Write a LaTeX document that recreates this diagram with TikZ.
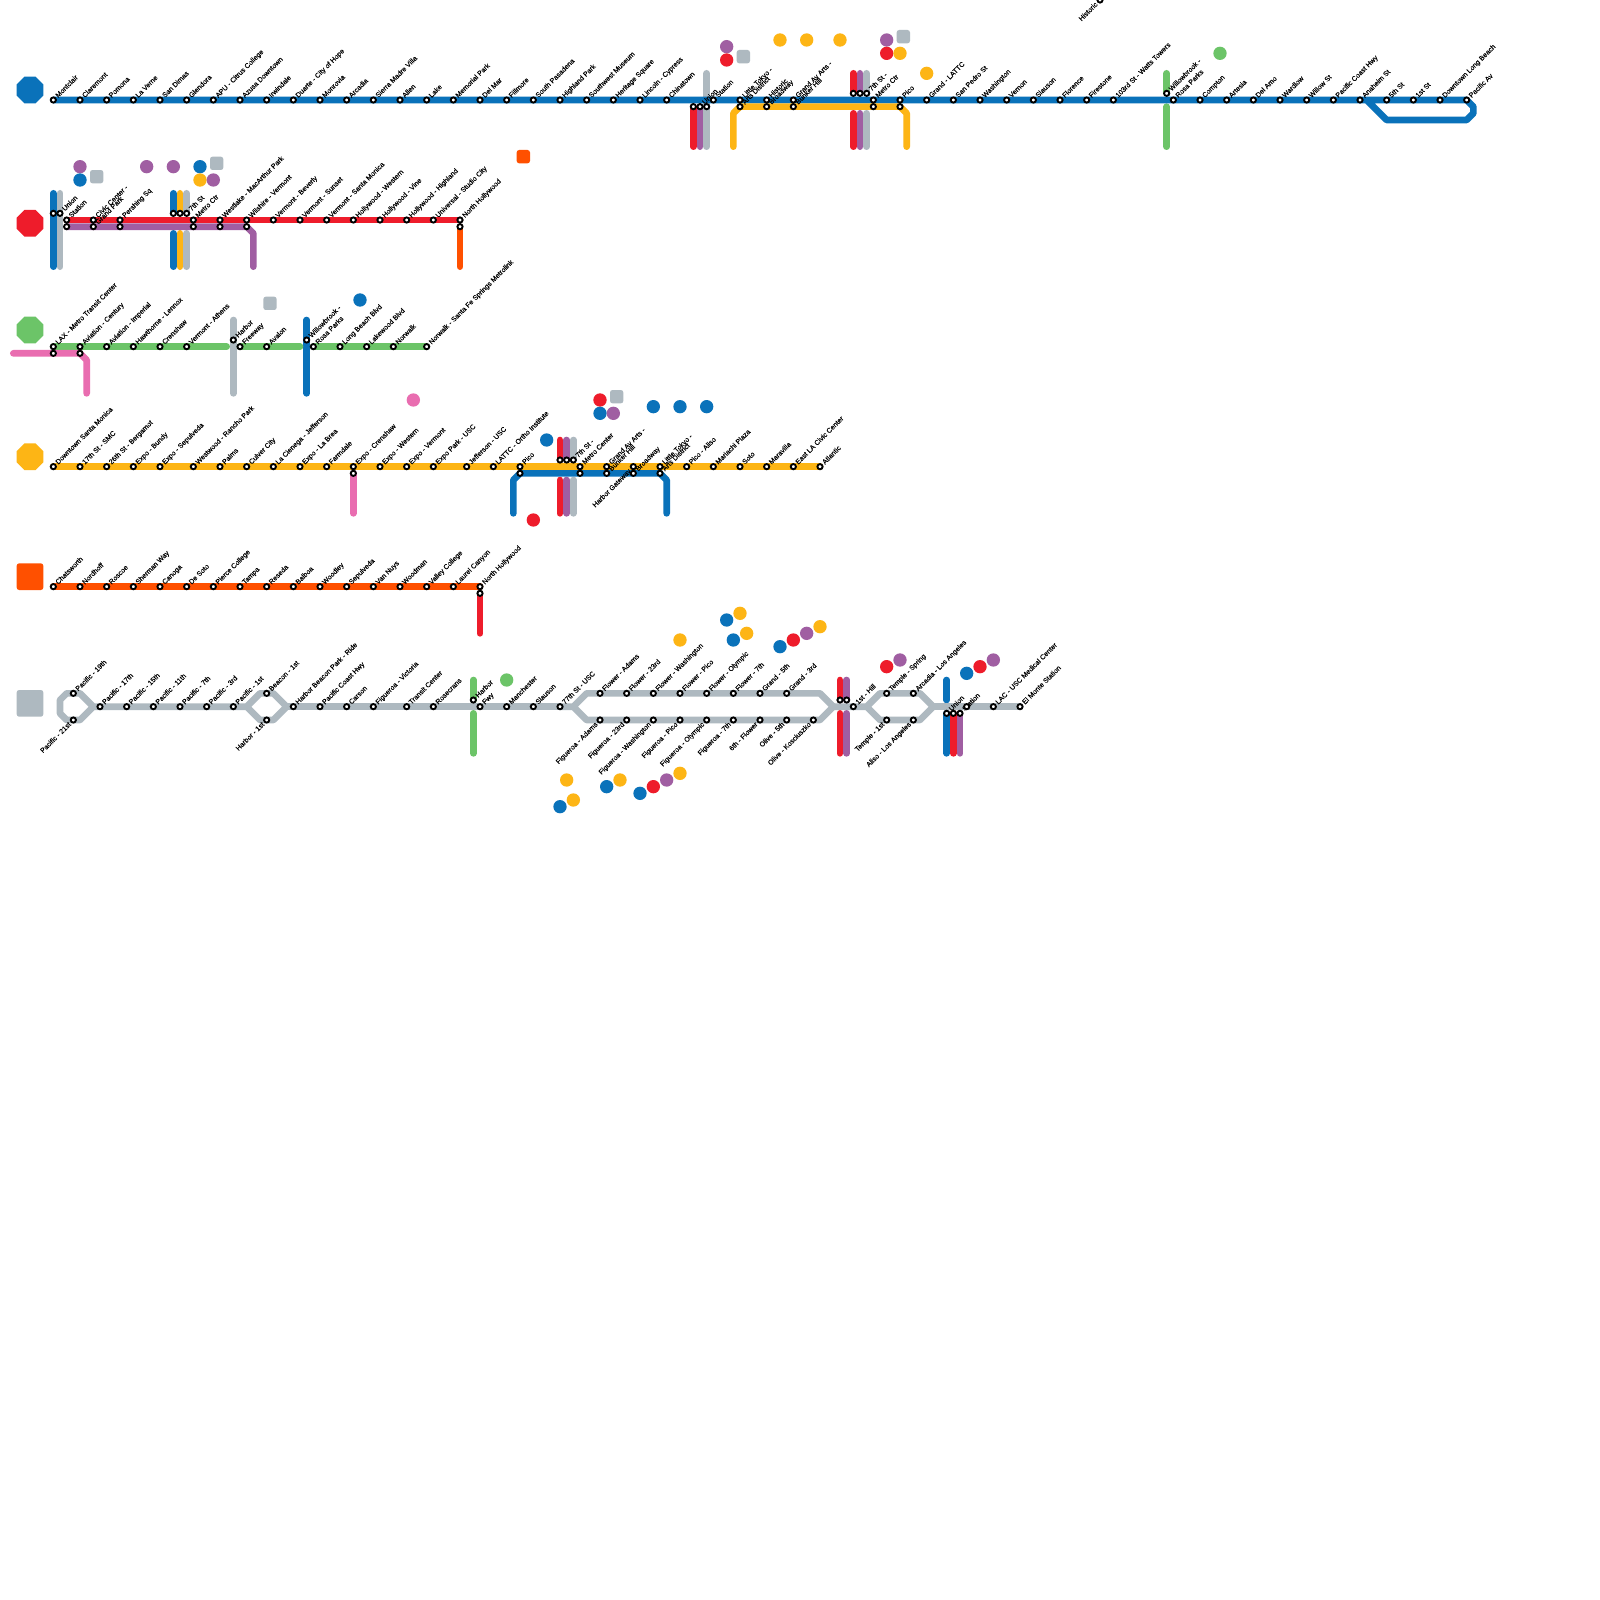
\documentclass[tikz,border=0pt]{standalone}
\usepackage{fontspec}
\setmainfont[FakeBold=0.3]{Liberation Sans}
\usetikzlibrary{shapes.geometric}
\pgfdeclarelayer{lines}
\pgfdeclarelayer{labels}
\pgfsetlayers{lines,labels,main}
\definecolor{mblue}{HTML}{0A72BA}
\definecolor{mred}{HTML}{EE1C2B}
\definecolor{mpurple}{HTML}{A05EA2}
\definecolor{mgold}{HTML}{FDB515}
\definecolor{morange}{HTML}{FF5000}
\definecolor{mgray}{HTML}{AEB9C0}
\definecolor{mgreen}{HTML}{6CC468}
\definecolor{mpink}{HTML}{E96DB0}
\tikzset{
  ln/.style={line width=6.67pt,line cap=round,line join=round,draw=#1},
  stn/.style={circle,draw=black,fill=white,line width=1.9pt,minimum size=5.2pt,inner sep=0pt,outer sep=0pt},
  lblup/.style={rotate=45,anchor=mid west,inner sep=0pt,font=\fontsize{7}{8}\selectfont},
  lbldn/.style={rotate=45,anchor=mid east,inner sep=0pt,font=\fontsize{7}{8}\selectfont},
  dot/.style={circle,fill=#1,draw=none,minimum size=13.33pt,inner sep=0pt,outer sep=0pt},
  sq/.style={rectangle,rounded corners=2.5pt,fill=#1,draw=none,minimum size=13.33pt,inner sep=0pt,outer sep=0pt},
  octa/.style={regular polygon,regular polygon sides=8,fill=#1,draw=none,minimum size=28.87pt,inner sep=0pt,outer sep=0pt},
  bigsq/.style={rectangle,rounded corners=2.5pt,fill=#1,draw=none,minimum size=26.67pt,inner sep=0pt,outer sep=0pt}
}
\newcommand{\Sta}[4]{\node[stn] (#1) at (#2,#3) {};\begin{pgfonlayer}{labels}\node[lblup] (#1-t) at ([shift={(0.45,-0.55)}]#1.center) {#4};\end{pgfonlayer}}
\newcommand{\Dwn}[4]{\node[stn] (#1) at (#2,#3) {};\begin{pgfonlayer}{labels}\node[lbldn] (#1-t) at ([shift={(-0.55,0.45)}]#1.center) {#4};\end{pgfonlayer}}
\newcommand{\Pln}[3]{\node[stn] (#1) at (#2,#3) {};}
\newcommand{\Stub}[5]{\coordinate (#1a) at (#3,#4);\coordinate (#1b) at (#3,#5);\draw[ln=#2] (#1a) -- (#1b);}
\begin{document}
\begin{tikzpicture}[x=6.66667pt,y=-6.66667pt]
\path[use as bounding box] (0,0) rectangle (240,240);
\begin{pgfonlayer}{lines}
\fill[white] (0,0) rectangle (240,240);
\end{pgfonlayer}
% legends
\node[octa=mblue] (lgblue) at (4.5,13.5) {};
\node[octa=mred] (lgred) at (4.5,33.5) {};
\node[octa=mgreen] (lggreen) at (4.5,49.5) {};
\node[octa=mgold] (lggold) at (4.5,68.5) {};
\node[bigsq=morange] (lgorange) at (4.5,86.5) {};
\node[bigsq=mgray] (lggray) at (4.5,105.5) {};
% row 1 stations
\Dwn{hist}{165}{0}{Historic}
\Sta{a1}{8}{15}{Montclair}
\Sta{a2}{12}{15}{Claremont}
\Sta{a3}{16}{15}{Pomona}
\Sta{a4}{20}{15}{La Verne}
\Sta{a5}{24}{15}{San Dimas}
\Sta{a6}{28}{15}{Glendora}
\Sta{a7}{32}{15}{APU - Citrus College}
\Sta{a8}{36}{15}{Azusa Downtown}
\Sta{a9}{40}{15}{Irwindale}
\Sta{a10}{44}{15}{Duarte - City of Hope}
\Sta{a11}{48}{15}{Monrovia}
\Sta{a12}{52}{15}{Arcadia}
\Sta{a13}{56}{15}{Sierra Madre Villa}
\Sta{a14}{60}{15}{Allen}
\Sta{a15}{64}{15}{Lake}
\Sta{a16}{68}{15}{Memorial Park}
\Sta{a17}{72}{15}{Del Mar}
\Sta{a18}{76}{15}{Fillmore}
\Sta{a19}{80}{15}{South Pasadena}
\Sta{a20}{84}{15}{Highland Park}
\Sta{a21}{88}{15}{Southwest Museum}
\Sta{a22}{92}{15}{Heritage Square}
\Sta{a23}{96}{15}{Lincoln - Cypress}
\Sta{a24}{100}{15}{Chinatown}
\Pln{a25}{104}{16}
\Sta{a26}{105}{16}{Union}
\Pln{a27}{106}{16}
\Sta{a28}{107}{15}{Station}
\Sta{a29}{111}{15}{Little Tokyo -}
\Sta{a30}{111}{16}{Arts District}
\Sta{a31}{115}{15}{Historic}
\Sta{a32}{115}{16}{Broadway}
\Sta{a33}{119}{15}{Grand Av Arts -}
\Sta{a34}{119}{16}{Bunker Hill}
\Pln{a35}{128}{14}
\Pln{a36}{129}{14}
\Sta{a37}{130}{14}{7th St -}
\Sta{a38}{131}{15}{Metro Ctr}
\Pln{a39}{131}{16}
\Sta{a40}{135}{15}{Pico}
\Pln{a41}{135}{16}
\Sta{a42}{139}{15}{Grand - LATTC}
\Sta{a43}{143}{15}{San Pedro St}
\Sta{a44}{147}{15}{Washington}
\Sta{a45}{151}{15}{Vernon}
\Sta{a46}{155}{15}{Slauson}
\Sta{a47}{159}{15}{Florence}
\Sta{a48}{163}{15}{Firestone}
\Sta{a49}{167}{15}{103rd St - Watts Towers}
\Sta{a50}{175}{14}{Willowbrook -}
\Sta{a51}{176}{15}{Rosa Parks}
\Sta{a52}{180}{15}{Compton}
\Sta{a53}{184}{15}{Artesia}
\Sta{a54}{188}{15}{Del Amo}
\Sta{a55}{192}{15}{Wardlow}
\Sta{a56}{196}{15}{Willow St}
\Sta{a57}{200}{15}{Pacific Coast Hwy}
\Sta{a58}{204}{15}{Anaheim St}
\Sta{a59}{208}{15}{5th St}
\Sta{a60}{212}{15}{1st St}
\Sta{a61}{216}{15}{Downtown Long Beach}
\Sta{a62}{220}{15}{Pacific Av}
% row 2 stations
\Pln{b1}{8}{32}
\Sta{b2}{9}{32}{Union}
\Sta{b3}{10}{33}{Station}
\Pln{b4}{10}{34}
\Sta{b5}{14}{33}{Civic Center -}
\Sta{b6}{14}{34}{Grand Park}
\Sta{b7}{18}{33}{Pershing Sq}
\Pln{b8}{18}{34}
\Pln{b9}{26}{32}
\Pln{b10}{27}{32}
\Sta{b11}{28}{32}{7th St}
\Sta{b12}{29}{33}{Metro Ctr}
\Pln{b13}{29}{34}
\Sta{b14}{33}{33}{Westlake - MacArthur Park}
\Pln{b15}{33}{34}
\Sta{b16}{37}{33}{Wilshire - Vermont}
\Pln{b17}{37}{34}
\Sta{b18}{41}{33}{Vermont - Beverly}
\Sta{b19}{45}{33}{Vermont - Sunset}
\Sta{b20}{49}{33}{Vermont - Santa Monica}
\Sta{b21}{53}{33}{Hollywood - Western}
\Sta{b22}{57}{33}{Hollywood - Vine}
\Sta{b23}{61}{33}{Hollywood - Highland}
\Sta{b24}{65}{33}{Universal - Studio City}
\Sta{b25}{69}{33}{North Hollywood}
\Pln{b26}{69}{34}
% row 3 stations
\Sta{c1}{8}{52}{LAX - Metro Transit Center}
\Pln{c2}{8}{53}
\Sta{c3}{12}{52}{Aviation - Century}
\Pln{c4}{12}{53}
\Sta{c5}{16}{52}{Aviation - Imperial}
\Sta{c6}{20}{52}{Hawthorne - Lennox}
\Sta{c7}{24}{52}{Crenshaw}
\Sta{c8}{28}{52}{Vermont - Athens}
\Sta{c9}{35}{51}{Harbor}
\Sta{c10}{36}{52}{Freeway}
\Sta{c11}{40}{52}{Avalon}
\Sta{c12}{46}{51}{Willowbrook -}
\Sta{c13}{47}{52}{Rosa Parks}
\Sta{c14}{51}{52}{Long Beach Blvd}
\Sta{c15}{55}{52}{Lakewood Blvd}
\Sta{c16}{59}{52}{Norwalk}
\Sta{c17}{64}{52}{Norwalk - Santa Fe Springs Metrolink}
% row 4 stations
\Sta{d1}{8}{70}{Downtown Santa Monica}
\Sta{d2}{12}{70}{17th St - SMC}
\Sta{d3}{16}{70}{26th St - Bergamot}
\Sta{d4}{20}{70}{Expo - Bundy}
\Sta{d5}{24}{70}{Expo - Sepulveda}
\Sta{d6}{29}{70}{Westwood - Rancho Park}
\Sta{d7}{33}{70}{Palms}
\Sta{d8}{37}{70}{Culver City}
\Sta{d9}{41}{70}{La Cienega - Jefferson}
\Sta{d10}{45}{70}{Expo - La Brea}
\Sta{d11}{49}{70}{Farmdale}
\Sta{d12}{53}{70}{Expo - Crenshaw}
\Pln{d13}{53}{71}
\Sta{d14}{57}{70}{Expo - Western}
\Sta{d15}{61}{70}{Expo - Vermont}
\Sta{d16}{65}{70}{Expo Park - USC}
\Sta{d17}{70}{70}{Jefferson - USC}
\Sta{d18}{74}{70}{LATTC - Ortho Institute}
\Sta{d19}{78}{70}{Pico}
\Pln{d20}{78}{71}
\Pln{d21}{84}{69}
\Pln{d22}{85}{69}
\Sta{d23}{86}{69}{7th St -}
\Sta{d24}{87}{70}{Metro Center}
\Pln{d25}{87}{71}
\Sta{d26}{91}{70}{Grand Av Arts -}
\Sta{d27}{91}{71}{Bunker Hill}
\Dwn{d28}{95}{70}{Harbor Gateway}
\Sta{d29}{95}{71}{Broadway}
\Sta{d30}{99}{70}{Little Tokyo -}
\Sta{d31}{99}{71}{Arts District}
\Sta{d32}{103}{70}{Pico - Aliso}
\Sta{d33}{107}{70}{Mariachi Plaza}
\Sta{d34}{111}{70}{Soto}
\Sta{d35}{115}{70}{Maravilla}
\Sta{d36}{119}{70}{East LA Civic Center}
\Sta{d37}{123}{70}{Atlantic}
% row 5 stations
\Sta{e1}{8}{88}{Chatsworth}
\Sta{e2}{12}{88}{Nordhoff}
\Sta{e3}{16}{88}{Roscoe}
\Sta{e4}{20}{88}{Sherman Way}
\Sta{e5}{24}{88}{Canoga}
\Sta{e6}{28}{88}{De Soto}
\Sta{e7}{32}{88}{Pierce College}
\Sta{e8}{36}{88}{Tampa}
\Sta{e9}{40}{88}{Reseda}
\Sta{e10}{44}{88}{Balboa}
\Sta{e11}{48}{88}{Woodley}
\Sta{e12}{52}{88}{Sepulveda}
\Sta{e13}{56}{88}{Van Nuys}
\Sta{e14}{60}{88}{Woodman}
\Sta{e15}{64}{88}{Valley College}
\Sta{e16}{68}{88}{Laurel Canyon}
\Sta{e17}{72}{88}{North Hollywood}
\Pln{e18}{72}{89}
% row 6 stations
\Sta{f1}{11}{104}{Pacific - 19th}
\Dwn{f2}{11}{108}{Pacific - 21st}
\Sta{f3}{15}{106}{Pacific - 17th}
\Sta{f4}{19}{106}{Pacific - 15th}
\Sta{f5}{23}{106}{Pacific - 11th}
\Sta{f6}{27}{106}{Pacific - 7th}
\Sta{f7}{31}{106}{Pacific - 3rd}
\Sta{f8}{35}{106}{Pacific - 1st}
\Sta{f9}{40}{104}{Beacon - 1st}
\Dwn{f10}{40}{108}{Harbor - 1st}
\Sta{f11}{44}{106}{Harbor Beacon Park - Ride}
\Sta{f12}{48}{106}{Pacific Coast Hwy}
\Sta{f13}{52}{106}{Carson}
\Sta{f14}{56}{106}{Figueroa - Victoria}
\Sta{f15}{61}{106}{Transit Center}
\Sta{f16}{65}{106}{Rosecrans}
\Sta{f17}{71}{105}{Harbor}
\Sta{f18}{72}{106}{Fwy}
\Sta{f19}{76}{106}{Manchester}
\Sta{f20}{80}{106}{Slauson}
\Sta{f21}{84}{106}{77th St - USC}
\Sta{g1}{90}{104}{Flower - Adams}
\Sta{g2}{94}{104}{Flower - 23rd}
\Sta{g3}{98}{104}{Flower - Washington}
\Sta{g4}{102}{104}{Flower - Pico}
\Sta{g5}{106}{104}{Flower - Olympic}
\Sta{g6}{110}{104}{Flower - 7th}
\Sta{g7}{114}{104}{Grand - 5th}
\Sta{g8}{118}{104}{Grand - 3rd}
\Dwn{h1}{90}{108}{Figueroa - Adams}
\Dwn{h2}{94}{108}{Figueroa - 23rd}
\Dwn{h3}{98}{108}{Figueroa - Washington}
\Dwn{h4}{102}{108}{Figueroa - Pico}
\Dwn{h5}{106}{108}{Figueroa - Olympic}
\Dwn{h6}{110}{108}{Figueroa - 7th}
\Dwn{h7}{114}{108}{6th - Flower}
\Dwn{h8}{118}{108}{Olive - 5th}
\Dwn{h9}{122}{108}{Olive - Kosciuszko}
\Pln{k1}{126}{105}
\Pln{k2}{127}{105}
\Sta{k3}{128}{106}{1st - Hill}
\Sta{k4}{133}{104}{Temple - Spring}
\Dwn{k5}{133}{108}{Temple - 1st}
\Sta{k6}{137}{104}{Arcadia - Los Angeles}
\Dwn{k7}{137}{108}{Aliso - Los Angeles}
\Sta{k8}{142}{107}{Union}
\Pln{k9}{143}{107}
\Sta{k10}{144}{107}{Station}
\Pln{k11}{145}{106}
\Sta{k12}{149}{106}{LAC - USC Medical Center}
\Sta{k13}{153}{106}{El Monte Station}
% icons
\node[dot=mpurple] (i1) at (109,7) {};
\node[dot=mred] (i2) at (109,9) {};
\node[sq=mgray] (i3) at (111.5,8.5) {};
\node[dot=mgold] (i4) at (117,6) {};
\node[dot=mgold] (i5) at (121,6) {};
\node[dot=mgold] (i6) at (126,6) {};
\node[dot=mpurple] (i7) at (133,6) {};
\node[dot=mred] (i8) at (133,8) {};
\node[sq=mgray] (i9) at (135.5,5.5) {};
\node[dot=mgold] (i10) at (135,8) {};
\node[dot=mgold] (i11) at (139,11) {};
\node[dot=mgreen] (i12) at (183,8) {};
\node[dot=mpurple] (i13) at (12,25) {};
\node[dot=mblue] (i14) at (12,27) {};
\node[sq=mgray] (i15) at (14.5,26.5) {};
\node[dot=mpurple] (i16) at (22,25) {};
\node[dot=mpurple] (i17) at (26,25) {};
\node[dot=mblue] (i18) at (30,25) {};
\node[sq=mgray] (i19) at (32.5,24.5) {};
\node[dot=mgold] (i20) at (30,27) {};
\node[dot=mpurple] (i21) at (32,27) {};
\node[sq=morange] (i22) at (78.5,23.5) {};
\node[sq=mgray] (i23) at (40.5,45.5) {};
\node[dot=mblue] (i24) at (54,45) {};
\node[dot=mpink] (i25) at (62,60) {};
\node[dot=mblue] (i26) at (82,66) {};
\node[dot=mred] (i27) at (90,60) {};
\node[sq=mgray] (i28) at (92.5,59.5) {};
\node[dot=mblue] (i29) at (90,62) {};
\node[dot=mpurple] (i30) at (92,62) {};
\node[dot=mblue] (i31) at (98,61) {};
\node[dot=mblue] (i32) at (102,61) {};
\node[dot=mblue] (i33) at (106,61) {};
\node[dot=mred] (i34) at (80,78) {};
\node[dot=mgold] (i35) at (102,96) {};
\node[dot=mblue] (i36) at (109,93) {};
\node[dot=mgold] (i37) at (111,92) {};
\node[dot=mblue] (i38) at (110,96) {};
\node[dot=mgold] (i39) at (112,95) {};
\node[dot=mblue] (i40) at (117,97) {};
\node[dot=mred] (i41) at (119,96) {};
\node[dot=mpurple] (i42) at (121,95) {};
\node[dot=mgold] (i43) at (123,94) {};
\node[dot=mgreen] (i44) at (76,102) {};
\node[dot=mred] (i45) at (133,100) {};
\node[dot=mpurple] (i46) at (135,99) {};
\node[dot=mblue] (i47) at (145,101) {};
\node[dot=mred] (i48) at (147,100) {};
\node[dot=mpurple] (i49) at (149,99) {};
\node[dot=mgold] (i50) at (85,117) {};
\node[dot=mblue] (i51) at (84,121) {};
\node[dot=mgold] (i52) at (86,120) {};
\node[dot=mblue] (i53) at (91,118) {};
\node[dot=mgold] (i54) at (93,117) {};
\node[dot=mblue] (i55) at (96,119) {};
\node[dot=mred] (i56) at (98,118) {};
\node[dot=mpurple] (i57) at (100,117) {};
\node[dot=mgold] (i58) at (102,116) {};
% connectors
\begin{pgfonlayer}{lines}
% transfer stubs, row 1
\Stub{s1}{mgray}{106}{11}{22}
\Stub{s2}{mred}{104}{16}{22}
\Stub{s3}{mpurple}{105}{16}{22}
\Stub{s4}{mred}{128}{11}{14}
\Stub{s5}{mpurple}{129}{11}{14}
\Stub{s6}{mgray}{130}{11}{14}
\Stub{s7}{mred}{128}{17}{22}
\Stub{s8}{mpurple}{129}{17}{22}
\Stub{s9}{mgray}{130}{17}{22}
\Stub{s10}{mgreen}{175}{11}{14}
\Stub{s11}{mgreen}{175}{16}{22}
% row 2
\Stub{s12}{mblue}{8}{29}{40}
\Stub{s13}{mgray}{9}{29}{40}
\Stub{s14}{mblue}{26}{29}{32}
\Stub{s15}{mgold}{27}{29}{32}
\Stub{s16}{mgray}{28}{29}{32}
\Stub{s17}{mblue}{26}{35}{40}
\Stub{s18}{mgold}{27}{35}{40}
\Stub{s19}{mgray}{28}{35}{40}
\Stub{s20}{morange}{69}{34}{40}
% row 3
\Stub{s21}{mgray}{35}{48}{59}
\Stub{s22}{mblue}{46}{48}{59}
% row 4
\Stub{s23}{mpink}{53}{71}{77}
\Stub{s24}{mred}{84}{66}{69}
\Stub{s25}{mpurple}{85}{66}{69}
\Stub{s26}{mgray}{86}{66}{69}
\Stub{s27}{mred}{84}{72}{77}
\Stub{s28}{mpurple}{85}{72}{77}
\Stub{s29}{mgray}{86}{72}{77}
% row 5
\Stub{s30}{mred}{72}{89}{95}
% row 6
\Stub{s31}{mgreen}{71}{102}{105}
\Stub{s32}{mgreen}{71}{107}{113}
\Stub{s33}{mred}{126}{102}{105}
\Stub{s34}{mpurple}{127}{102}{105}
\Stub{s35}{mred}{126}{107}{113}
\Stub{s36}{mpurple}{127}{107}{113}
\Stub{s37}{mblue}{142}{102}{105}
\Stub{s38}{mblue}{142}{107}{113}
\Stub{s39}{mred}{143}{107}{113}
\Stub{s40}{mpurple}{144}{107}{113}
% waypoints
\coordinate (w1) at (221,16);\coordinate (w2) at (221,17);\coordinate (w3) at (220,18);\coordinate (w4) at (208,18);\coordinate (w5) at (205,15);
\draw[ln=mblue] (a1.center) -- (a62.center) -- (w1) -- (w2) -- (w3) -- (w4) -- (w5);
\coordinate (w6) at (110,22);\coordinate (w7) at (110,17);\coordinate (w8) at (136,17);\coordinate (w9) at (136,22);
\draw[ln=mgold] (w6) -- (w7) -- (a30.center) -- (a41.center) -- (w8) -- (w9);
\draw[ln=mred] (b3.center) -- (b25.center);
\coordinate (w10) at (38,35);\coordinate (w11) at (38,40);
\draw[ln=mpurple] (b4.center) -- (b17.center) -- (w10) -- (w11);
\coordinate (w12) at (34,52);\coordinate (w13) at (45,52);
\draw[ln=mgreen] (c1.center) -- (w12);
\draw[ln=mgreen] (c10.center) -- (w13);
\draw[ln=mgreen] (c13.center) -- (c17.center);
\coordinate (w14) at (2,53);\coordinate (w15) at (13,54);\coordinate (w16) at (13,59);
\draw[ln=mpink] (w14) -- (c2.center) -- (c4.center) -- (w15) -- (w16);
\draw[ln=mgold] (d1.center) -- (d37.center);
\coordinate (w17) at (77,77);\coordinate (w18) at (77,72);\coordinate (w19) at (100,72);\coordinate (w20) at (100,77);
\draw[ln=mblue] (w17) -- (w18) -- (d20.center) -- (d31.center) -- (w19) -- (w20);
\draw[ln=morange] (e1.center) -- (e17.center);
% silver line
\coordinate (v0) at (14,106);\coordinate (v1) at (12,104);\coordinate (v2) at (10,104);\coordinate (v3) at (9,105);\coordinate (v4) at (9,107);\coordinate (v5) at (10,108);\coordinate (v6) at (12,108);
\draw[ln=mgray] (v0) -- (v1) -- (v2) -- (v3) -- (v4) -- (v5) -- (v6) -- (v0) -- (f3.center) -- (f8.center);
\coordinate (v7) at (37,106);\coordinate (v8) at (39,104);\coordinate (v9) at (41,104);\coordinate (v10) at (43,106);\coordinate (v11) at (39,108);\coordinate (v12) at (41,108);
\draw[ln=mgray] (f8.center) -- (v7) -- (v8) -- (v9) -- (v10) -- (v12) -- (v11) -- (v7);
\draw[ln=mgray] (v10) -- (f21.center);
\coordinate (v13) at (86,106);\coordinate (v14) at (88,104);\coordinate (v15) at (123,104);\coordinate (v16) at (125,106);\coordinate (v17) at (88,108);\coordinate (v18) at (123,108);
\draw[ln=mgray] (f21.center) -- (v13) -- (v14) -- (v15) -- (v16) -- (v18) -- (v17) -- (v13);
\coordinate (v19) at (130,106);\coordinate (v20) at (132,104);\coordinate (v21) at (138,104);\coordinate (v22) at (140,106);\coordinate (v23) at (132,108);\coordinate (v24) at (138,108);
\draw[ln=mgray] (v16) -- (k3.center) -- (v19) -- (v20) -- (v21) -- (v22) -- (v24) -- (v23) -- (v19);
\draw[ln=mgray] (v22) -- (k13.center);
\end{pgfonlayer}
\end{tikzpicture}
\end{document}
